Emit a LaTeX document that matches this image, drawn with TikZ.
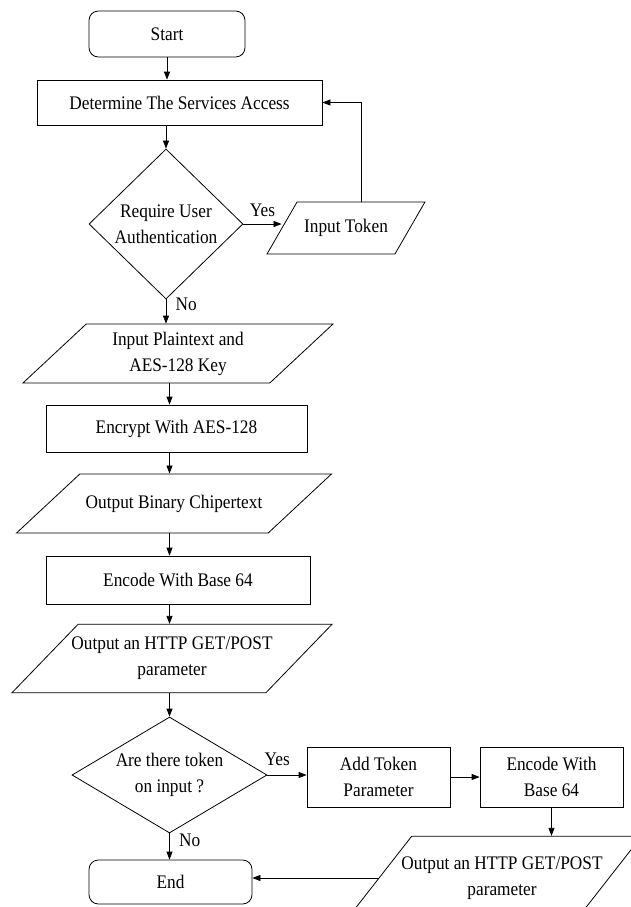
\documentclass[tikz,border=0pt]{standalone}
\usepackage{fontspec}
\setmainfont{Liberation Serif}[FakeStretch=0.9]
\usetikzlibrary{arrows.meta,shapes.geometric}

\begin{document}
\begin{tikzpicture}[x=0.75pt, y=-0.75pt, line width=0.6pt,
    font=\fontsize{14.4pt}{19.5pt}\selectfont,
    term/.style={draw, rounded corners=7pt, align=center},
    box/.style={draw, align=center},
    io/.style 2 args={draw, trapezium, trapezium left angle=#1, trapezium right angle=#2,
        trapezium stretches body, align=center},
    decision/.style={draw, diamond, aspect=#1, inner sep=0pt, align=center},
    lbl/.style={inner sep=1pt},
    arrow/.style={-{Triangle[length=6pt,width=4.5pt]}}
]
\useasboundingbox (0,0) rectangle (631,907);

% start
\node[term, minimum width=117pt, minimum height=34.5pt] (start) at (167,34) {Start};

% services access
\node[box, minimum width=213.75pt, minimum height=33.75pt] (access) at (179.5,102.5) {Determine The Services Access};

% authentication check
\node[decision=1.03, minimum width=115.5pt, minimum height=112.5pt] (auth) at (166,224) {Require User\\Authentication};

% token input
\node[io={60}{120}, inner ysep=13pt, minimum width=118.5pt] (token) at (346,228) {Input Token};

% plaintext and key
\node[io={43}{137}, inner ysep=5.8pt, minimum width=232.5pt] (plain) at (178,353.5) {Input Plaintext and\\AES-128 Key};

% encryption
\node[box, minimum width=195.75pt, minimum height=35.25pt] (encrypt) at (176.5,428.5) {Encrypt With AES-128};

% ciphertext
\node[io={43}{137}, inner ysep=15.6pt, minimum width=236.25pt] (cipher) at (174,503.5) {Output Binary Chipertext};

% base 64
\node[box, minimum width=198pt, minimum height=36pt] (encode) at (178,580) {Encode With Base 64};

% http parameter
\node[io={46}{134}, inner xsep=-15pt, inner ysep=9.6pt, minimum width=240pt] (param) at (172,658.5) {Output an HTTP GET/POST\\parameter};

% token check
\node[decision=1.68, minimum width=146.25pt, minimum height=87pt] (check) at (169.5,775) {Are there token\\on input ?};

% token branch
\node[box, minimum width=107.25pt, minimum height=45pt] (addtok) at (378.5,777) {Add Token\\Parameter};
\node[box, minimum width=107.25pt, minimum height=45pt] (encode2) at (551.5,777) {Encode With\\Base 64};
\node[io={52}{128}, inner xsep=-20pt, inner ysep=15.2pt, minimum width=221.25pt] (param2) at (494,878)
    {\hspace*{12pt}Output an HTTP GET/POST\\\hspace*{12pt}parameter};

% end
\node[term, minimum width=122.25pt, minimum height=33pt] (end) at (170.5,882) {End};

\draw[arrow] (start) -- (start |- access.north);
\draw[arrow] (auth.north |- access.south) -- (auth);
\draw[arrow] (auth) -- node[lbl, above=4pt] (yes1) {Yes} (auth -| token.left side);
\draw[arrow] (token.top side) |- (access);
\draw[arrow] (auth) -- node[lbl, pos=0.2, right=6pt] (no1) {No} (auth |- plain.north);
\draw[arrow] (check |- plain.south) -- (check |- encrypt.north);
\draw[arrow] (check |- encrypt.south) -- (check |- cipher.north);
\draw[arrow] (check |- cipher.south) -- (check |- encode.north);
\draw[arrow] (check |- encode.south) -- (check |- param.north);
\draw[arrow] (check |- param.south) -- (check);
\draw[arrow] (check.east) -- node[lbl, pos=0.25, above=6pt] (yes2) {Yes} (check.east -| addtok.west);
\draw[arrow] (addtok) -- (encode2);
\draw[arrow] (encode2) -- (encode2 |- param2.north);
\draw[arrow] (param2.left side) -- (param2.left side -| end.east);
\draw[arrow] (check) -- node[lbl, pos=0.25, right=6pt] (no2) {No} (check |- end.north);
\end{tikzpicture}
\end{document}
